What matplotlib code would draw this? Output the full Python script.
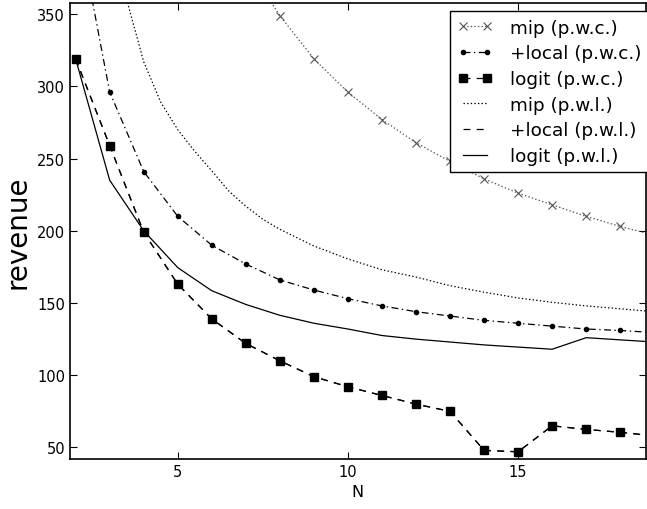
import numpy as np
import matplotlib
matplotlib.use("Agg")
import matplotlib.pyplot as plt

# N values
n_all = [2, 3, 4, 5, 6, 7, 8, 9, 10, 11, 12, 13, 14, 15, 16, 17, 18, 19]
n_mip = [7, 8, 9, 10, 11, 12, 13, 14, 15, 16, 17, 18, 19]
# the mip (p.w.l.) curve is drawn finely, so it is read at more points
n_fine = [3, 3.5, 4, 4.5, 5, 5.5, 6, 6.5, 7, 7.5, 8, 9, 10, 11, 12, 13, 14, 15, 16, 17, 18, 19]

# revenue, piecewise constant
mip_pwc = [385, 349, 319, 296, 277, 261, 248, 236, 226, 218, 210, 203, 197]
local_pwc = [420, 296, 241, 210, 190, 177, 166, 159, 153, 148, 144, 141, 138, 136, 134, 132, 131, 129.5]
logit_pwc = [319, 259, 199, 163, 139, 122, 110, 99, 92, 86, 80, 75, 48, 47, 65, 62.5, 60.5, 58]

# revenue, piecewise linear
mip_pwl = [420, 360, 317, 289, 270, 255, 241.5, 227.5, 217, 208, 201, 189.5, 180.5, 173, 168, 162,
           157.5, 153.5, 150.5, 148, 146, 144]
local_pwl = logit_pwc  # hidden under the logit (p.w.c.) curve
logit_pwl = [319, 235, 200, 174.5, 158.5, 149, 141.5, 136, 132, 127.5, 125, 123, 121, 119.5, 118, 126, 124.5, 123]

plt.rcParams['lines.scale_dashes'] = False
dashed = (0, (5, 4.5))
dashdot = (0, (5, 2.5, 1, 2.5))
dotted = (0, (1, 1.6))

fig = plt.figure(figsize=(6.47, 5.10), dpi=100)
ax = fig.add_axes([0.108, 0.098, 0.89, 0.895])

lw = 0.9
ax.plot(n_mip, mip_pwc, linestyle=dotted, color='#555555', lw=lw, marker='x', markersize=6,
        markeredgewidth=0.8, label='mip (p.w.c.)')
ax.plot(n_all, local_pwc, linestyle=dashdot, color='black', lw=lw, marker='o', markersize=3,
        label='+local (p.w.c.)')
ax.plot(n_all, logit_pwc, linestyle=dashed, color='black', lw=lw, marker='s', markersize=6,
        label='logit (p.w.c.)')
ax.plot(n_fine, mip_pwl, linestyle=dotted, color='black', lw=lw, label='mip (p.w.l.)')
ax.plot(n_all, local_pwl, linestyle=dashed, color='black', lw=lw, label='+local (p.w.l.)')
ax.plot(n_all, logit_pwl, '-', color='black', lw=lw, label='logit (p.w.l.)')

ax.set_xlim(1.83, 18.75)
ax.set_ylim(42, 358)
ax.set_xticks([5, 10, 15])
ax.set_yticks([50, 100, 150, 200, 250, 300, 350])
ax.tick_params(direction='in', top=True, right=True, labelsize=10.5, length=5)
for s in ax.spines.values():
    s.set_linewidth(1.2)
ax.set_xlabel('N', fontsize=11.5)
ax.set_ylabel('revenue', fontsize=20)

leg = ax.legend(loc='upper left', bbox_to_anchor=(0.66, 0.981), fontsize=13.2,
                numpoints=2, handlelength=1.9, handletextpad=1.0, borderaxespad=0,
                labelspacing=0.42, fancybox=False, framealpha=1)
leg.get_frame().set_edgecolor('black')
leg.get_frame().set_linewidth(1.0)

fig.savefig('out.png', dpi=100)
